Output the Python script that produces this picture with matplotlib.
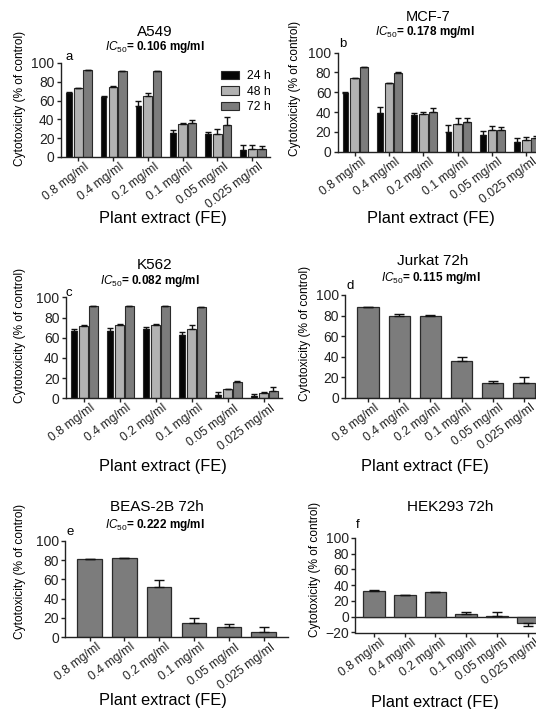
import numpy as np
import matplotlib
matplotlib.use('Agg')
import matplotlib.pyplot as plt
import matplotlib.transforms as mtransforms
from matplotlib.patches import Patch

plt.rcParams['font.family'] = ['Liberation Sans', 'DejaVu Sans']
plt.rcParams['mathtext.fontset'] = 'custom'
plt.rcParams['mathtext.it'] = 'Liberation Sans:italic'
plt.rcParams['mathtext.rm'] = 'Liberation Sans'

# concentrations on every x axis
conc = ['0.8 mg/ml', '0.4 mg/ml', '0.2 mg/ml', '0.1 mg/ml', '0.05 mg/ml', '0.025 mg/ml']
hours = ['24 h', '48 h', '72 h']

# A549 (a)
a549_24 = [68, 64, 54, 26, 24, 7]
a549_24_err = [1, 1, 6, 3, 3, 6]
a549_48 = [73, 75, 65, 35, 24, 9]
a549_48_err = [0.5, 0.5, 3, 1, 6, 4]
a549_72 = [92.5, 91, 91, 36, 34, 9]
a549_72_err = [0.5, 1, 1, 3.5, 9, 3]

# MCF-7 (b)
mcf7_24 = [59, 39, 37, 20, 17, 10]
mcf7_24_err = [1, 6.5, 2.5, 6.5, 3.5, 3.5]
mcf7_48 = [74, 69, 38, 28, 22, 12]
mcf7_48_err = [0.5, 0.5, 2.5, 5.5, 4, 3]
mcf7_72 = [85, 79, 40, 30, 22, 14]
mcf7_72_err = [0.5, 1.5, 4, 4, 2.5, 2]

# K562 (c)
k562_24 = [67, 67, 69, 63, 3, 2]
k562_24_err = [1.5, 3, 1.5, 3, 3.5, 2]
k562_48 = [72, 73, 73, 69, 9, 5]
k562_48_err = [1, 0.5, 0.5, 3.5, 0.5, 1.5]
k562_72 = [91, 91, 91, 90, 16.5, 7]
k562_72_err = [0.5, 0.5, 0.5, 0.5, 0.5, 4]

# single time point panels (72 h)
jurkat = [88, 80, 80, 36, 14, 14]
jurkat_err = [0.5, 1.5, 1, 3.5, 2, 6]
beas = [81, 82, 52, 15, 11, 6]
beas_err = [0.3, 0.3, 7, 5, 3, 4.5]
hek = [33, 27, 31, 4, 1, -8]
hek_err = [1, 0.8, 0.8, 2.5, 4.5, 4]

W, H = 536, 709
fig = plt.figure(figsize=(W / 100, H / 100), dpi=100)

col_24 = '#050505'
col_48 = '#b2b2b2'
col_72 = '#7c7c7c'
edge = '#2a2a2a'


def px_axes(x0, x1, ytop, ybot):
    return fig.add_axes([x0 / W, 1 - ybot / H, (x1 - x0) / W, (ybot - ytop) / H])


def ftext(x, y, s, **kw):
    fig.text(x / W, 1 - y / H, s, **kw)


def yerr_of(vals, errs):
    lo = [e if v < 0 else 0 for v, e in zip(vals, errs)]
    hi = [0 if v < 0 else e for v, e in zip(vals, errs)]
    return [lo, hi]


def style(ax, xlim, ylim, yticks):
    ax.set_xlim(*xlim)
    ax.set_ylim(*ylim)
    ax.set_yticks(yticks)
    ax.set_xticks(range(len(conc)))
    ax.set_xticklabels(conc, rotation=37, ha='right', va='top', rotation_mode='anchor')
    for s in ['top', 'right']:
        ax.spines[s].set_visible(False)
    for s in ['left', 'bottom']:
        ax.spines[s].set_linewidth(1.0)
        ax.spines[s].set_color('#222222')
    ax.tick_params(axis='both', length=3, width=1.0, labelsize=10, pad=1.5, colors='#222222')
    ax.tick_params(axis='x', labelsize=8.8, pad=0.5)
    shift = mtransforms.ScaledTranslation(0.06, 0.01, fig.dpi_scale_trans)
    for lab in ax.get_xticklabels():
        lab.set_transform(lab.get_transform() + shift)


def grouped(ax, series, errs):
    x = np.arange(len(conc))
    offs = [-0.27, 0.0, 0.27]
    widths = [0.16, 0.25, 0.24]
    cols = [col_24, col_48, col_72]
    for vals, ee, off, w, c in zip(series, errs, offs, widths, cols):
        ax.bar(x + off, vals, w, color=c, edgecolor=edge, linewidth=0.8, zorder=2)
        ax.errorbar(x + off, vals, yerr=yerr_of(vals, ee), fmt='none', ecolor='#111111',
                    elinewidth=1.0, capsize=2, capthick=1.0, zorder=3)


def single(ax, vals, ee):
    x = np.arange(len(conc))
    ax.bar(x, vals, 0.7, color=col_72, edgecolor=edge, linewidth=0.9, zorder=2)
    ax.errorbar(x, vals, yerr=yerr_of(vals, ee), fmt='none', ecolor='#111111',
                elinewidth=1.0, capsize=3.5, capthick=1.0, zorder=3)


def labels(title, ic50, letter, tpos, ipos, lpos, ypos, xpos, tsize=11):
    ftext(*tpos, title, fontsize=tsize, ha='center', va='center')
    if ic50 is not None:
        ftext(*ipos, r'$IC_{50}$= ' + ic50, fontsize=8.5, ha='center', va='center', fontweight='bold')
    ftext(*lpos, letter, fontsize=9.5, ha='center', va='center')
    ftext(*ypos, 'Cytotoxicity (% of control)', fontsize=8.6, rotation=90, ha='center', va='center')
    ftext(*xpos, 'Plant extract (FE)', fontsize=11.8, ha='center', va='center')


# a
ax = px_axes(60.8, 269.6, 63, 157)
grouped(ax, [a549_24, a549_48, a549_72], [a549_24_err, a549_48_err, a549_72_err])
style(ax, (-0.5, 5.5), (0, 100), range(0, 101, 20))
labels('A549', '0.106 mg/ml', 'a', (155, 32), (155, 47), (69, 57), (20, 98), (163, 218))
ax.legend(handles=[Patch(facecolor=c, edgecolor=edge, linewidth=0.8) for c in [col_24, col_48, col_72]],
          labels=hours, loc='upper left', bbox_to_anchor=(215 / W, 1 - 64 / H),
          bbox_transform=fig.transFigure, frameon=False, fontsize=8.8,
          handlelength=1.5, handleheight=0.7, handletextpad=0.6, labelspacing=0.3, borderpad=0)

# b
ax = px_axes(337.6, 543.5, 52.5, 151.7)
grouped(ax, [mcf7_24, mcf7_48, mcf7_72], [mcf7_24_err, mcf7_48_err, mcf7_72_err])
style(ax, (-0.5, 5.5), (0, 100), range(0, 101, 20))
labels('MCF-7', '0.178 mg/ml', 'b', (428, 17), (425, 32), (343, 44), (295, 88), (431, 219), tsize=10.5)

# c
ax = px_axes(65.7, 281.7, 297.3, 398.3)
grouped(ax, [k562_24, k562_48, k562_72], [k562_24_err, k562_48_err, k562_72_err])
style(ax, (-0.5, 5.5), (0, 100), range(0, 101, 20))
labels('K562', '0.082 mg/ml', 'c', (155, 265), (150, 281), (69, 293), (20, 335), (163, 466))

# d
ax = px_axes(345, 547, 295, 397.7)
single(ax, jurkat, jurkat_err)
style(ax, (-0.75, 5.75), (0, 100), range(0, 101, 20))
labels('Jurkat 72h', '0.115 mg/ml', 'd', (433, 261), (431, 278), (350, 286), (305, 333), (425, 466))

# e
ax = px_axes(65.3, 288, 540.7, 637.3)
single(ax, beas, beas_err)
style(ax, (-0.7, 5.7), (0, 100), range(0, 101, 20))
labels('BEAS-2B 72h', '0.222 mg/ml', 'e', (157, 507), (155, 525), (70, 532), (20, 571), (163, 701))

# f
ax = px_axes(355, 547.6, 537.7, 632.5)
single(ax, hek, hek_err)
style(ax, (-0.62, 5.65), (-20, 100), range(-20, 101, 20))
ax.axhline(0, color='#222222', linewidth=1.0, zorder=1)
labels('HEK293 72h', None, 'f', (450, 507), None, (358, 525), (315, 569), (435, 702))

fig.savefig('out.png', dpi=100)
